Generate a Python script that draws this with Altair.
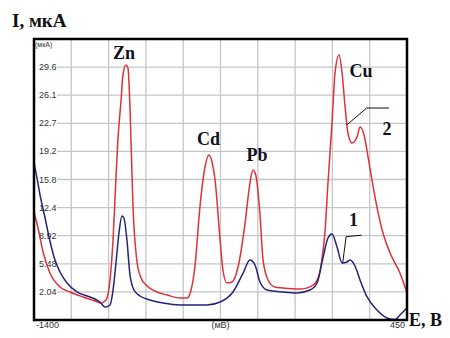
import altair as alt
import pandas as pd

# ---- data ----
red_mv = [-1400, -1380, -1355, -1321, -1271, -1222, -1157, -1098, -1068, -1043, -1023, -1008, -994, -984,
          -968, -959, -944, -934, -924, -909, -889, -869, -844, -810, -740, -676, -641, -621, -601, -577,
          -552, -532, -517, -502, -477, -463, -443, -418, -388, -353, -329, -314, -299, -279, -264, -239,
          -205, -165, -81, -16, 9, 24, 44, 58, 78, 93, 113, 128, 143, 157, 177, 202, 217, 237, 257, 276,
          301, 331, 366, 415, 450]
red_ua = [11.82, 9.86, 6.92, 4.35, 2.64, 2.03, 1.42, 0.93, 0.68, 1.05, 3.50, 8.39, 15.74, 20.63,
          25.53, 28.59, 29.82, 29.45, 24.67, 12.43, 5.70, 3.74, 2.88, 2.27, 1.66, 1.29, 1.29, 2.27, 5.33, 12.43,
          17.33, 18.80, 17.94, 15.74, 8.39, 4.72, 3.13, 3.25, 5.09, 10.47, 15.37, 16.96, 16.23, 11.45, 5.94, 3.50,
          2.64, 2.52, 2.39, 2.88, 3.74, 5.33, 9.62, 15.37, 22.72, 28.84, 31.04, 28.84, 24.67, 21.49, 20.27, 21.00,
          22.23, 21.25, 18.55, 15.74, 12.43, 9.25, 6.80, 4.35, 1.91]

blue_mv = [-1400, -1385, -1370, -1345, -1321, -1296, -1271, -1236, -1187, -1122, -1073, -1048, -1023, -1008,
           -993, -978, -964, -954, -939, -924, -904, -874, -825, -760, -676, -542, -477, -413, -363, -329,
           -304, -279, -244, -165, -96, -31, 4, 33, 58, 78, 103, 128, 152, 167, 192, 217, 252, 301, 351,
           391, 415, 450]
blue_ua = [17.94, 15.98, 13.90, 11.09, 8.27, 5.94, 4.48, 3.13, 2.03, 1.42, 0.80, 0.19, 0.44, 2.27,
           5.70, 9.37, 11.33, 11.09, 8.39, 4.11, 2.27, 1.54, 1.05, 0.68, 0.44, 0.44, 0.80, 2.03, 4.35, 5.94,
           5.33, 3.25, 2.27, 2.03, 1.91, 2.27, 3.13, 6.19, 8.64, 9.13, 7.54, 5.58, 5.70, 5.94, 5.21, 3.50,
           1.42, -0.18, -1.16, -1.35, -0.79, 0.07]

y_ticks = [2.04, 5.48, 8.92, 12.36, 15.8, 19.24, 22.68, 26.12, 29.56]
y_tick_labels = ["2.04", "5.48", "8.92", "12.4", "15.8", "19.2", "22.7", "26.1", "29.6"]
x_grid = [-1215, -1030, -845, -660, -475, -290, -105, 80, 265]
x_label_text = ["-1400", "(мВ)", "450"]
x_label_pos = [-1400, -475, 450]

peak_names = ["Zn", "Cd", "Pb", "Cu", "2", "1"]
peak_x = [-954, -534, -294, 222, 351, 185]
peak_y = [31.2, 20.6, 18.7, 28.9, 21.9, 10.7]

lead2_x = [151, 250, 361]
lead2_y = [22.47, 24.55, 24.55]
lead1_x = [131, 148, 225]
lead1_y = [5.54, 8.80, 8.99]

# ---- chart ----
W, H = 373, 281
xs = alt.Scale(domain=[-1400, 450], nice=False, zero=False)
ys = alt.Scale(domain=[-1.4, 33.0], nice=False, zero=False)

def X(f="x"):
    return alt.X(f"{f}:Q", scale=xs, axis=None)

def Y(f="y"):
    return alt.Y(f"{f}:Q", scale=ys, axis=None)

one = pd.DataFrame({"k": [0]})

vgrid = alt.Chart(pd.DataFrame({"x": x_grid})).mark_rule(color="#c6c6c6", strokeWidth=1.3).encode(
    x=X(), y=alt.value(0), y2=alt.value(H))

hgrid = alt.Chart(pd.DataFrame({"y": y_ticks})).mark_rule(color="#c6c6c6", strokeWidth=1.3).encode(
    y=Y(), x=alt.value(23), x2=alt.value(W))

ylab = alt.Chart(pd.DataFrame({"y": y_ticks, "t": y_tick_labels})).mark_text(
    align="left", baseline="middle", font="Liberation Sans", fontSize=9, color="#333333").encode(
    y=Y(), x=alt.value(5), text="t:N")

unit_y = alt.Chart(pd.DataFrame({"t": ["(мкА)"]})).mark_text(
    align="left", baseline="middle", font="Liberation Sans", fontSize=7, color="#333333").encode(
    x=alt.value(1), y=alt.value(6), text="t:N")

red_df = pd.DataFrame({"x": red_mv, "y": red_ua, "o": range(len(red_mv))})
blue_df = pd.DataFrame({"x": blue_mv, "y": blue_ua, "o": range(len(blue_mv))})

red = alt.Chart(red_df).mark_line(color="#e0303a", strokeWidth=1.5, interpolate="monotone", clip=True).encode(
    x=X(), y=Y(), order="o:Q")
blue = alt.Chart(blue_df).mark_line(color="#23237a", strokeWidth=1.5, interpolate="monotone", clip=True).encode(
    x=X(), y=Y(), order="o:Q")

lead2 = alt.Chart(pd.DataFrame({"x": lead2_x, "y": lead2_y, "o": [0, 1, 2]})).mark_line(
    color="#111111", strokeWidth=1).encode(x=X(), y=Y(), order="o:Q")
lead1 = alt.Chart(pd.DataFrame({"x": lead1_x, "y": lead1_y, "o": [0, 1, 2]})).mark_line(
    color="#111111", strokeWidth=1).encode(x=X(), y=Y(), order="o:Q")

peaks = alt.Chart(pd.DataFrame({"x": peak_x, "y": peak_y, "t": peak_names})).mark_text(
    align="center", baseline="middle", font="Liberation Serif", fontWeight="bold", fontSize=18,
    color="#111122").encode(x=X(), y=Y(), text="t:N")

xl_layers = []
for t, p, a, d in zip(x_label_text, x_label_pos, ["left", "center", "right"], [2, 0, -2]):
    xl_layers.append(alt.Chart(pd.DataFrame({"x": [p], "t": [t]})).mark_text(
        align=a, baseline="middle", dx=d, font="Liberation Sans", fontSize=9, color="#333333").encode(
        x=X(), y=alt.value(H + 5), text="t:N"))

ytitle = alt.Chart(pd.DataFrame({"t": ["I, мкА"]})).mark_text(
    align="left", baseline="alphabetic", font="Liberation Serif", fontWeight="bold", fontSize=19,
    color="#111111").encode(x=alt.value(-22), y=alt.value(-12), text="t:N")

xtitle = alt.Chart(pd.DataFrame({"t": ["E, B"]})).mark_text(
    align="right", baseline="alphabetic", font="Liberation Serif", fontWeight="bold", fontSize=18,
    color="#111111").encode(x=alt.value(408), y=alt.value(287), text="t:N")

fc, fw = "#000000", 2.5
frame = [
    alt.Chart(one).mark_rule(color=fc, strokeWidth=fw).encode(x=alt.value(-1), x2=alt.value(W + 1), y=alt.value(0)),
    alt.Chart(one).mark_rule(color=fc, strokeWidth=fw).encode(x=alt.value(-1), x2=alt.value(W + 1), y=alt.value(H)),
    alt.Chart(one).mark_rule(color=fc, strokeWidth=fw).encode(x=alt.value(0), y=alt.value(-1), y2=alt.value(H + 1)),
    alt.Chart(one).mark_rule(color=fc, strokeWidth=fw).encode(x=alt.value(W), y=alt.value(-1), y2=alt.value(H + 1)),
]

chart = alt.layer(vgrid, hgrid, ylab, unit_y, red, blue, lead2, lead1, peaks, *xl_layers, ytitle, xtitle,
                  *frame).properties(
    width=W, height=H,
    padding={"left": 26, "top": 31, "right": 35, "bottom": 10},
    autosize=alt.AutoSizeParams(type="none"),
).configure(background="white").configure_view(stroke=None)

chart.save("out.html", embed_options={"renderer": "svg", "actions": False})
